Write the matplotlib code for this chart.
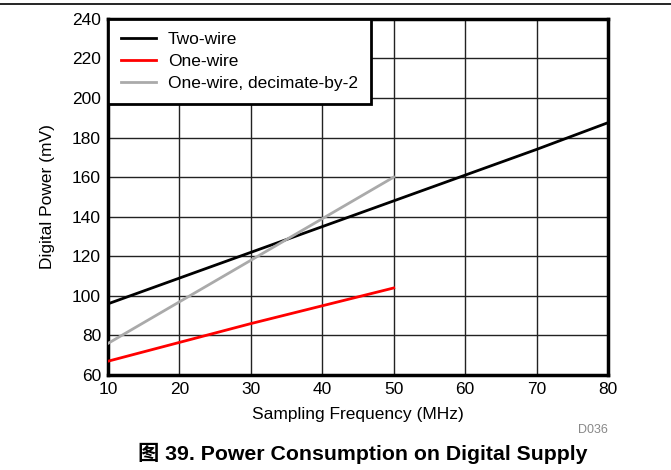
import numpy as np
import matplotlib.pyplot as plt
from matplotlib.lines import Line2D

# data
freq_two = [10, 20, 30, 40, 50, 60, 70, 80]
power_two = [96, 109, 122, 135, 148, 161, 174, 187.5]
freq_one = [10, 20, 30, 40, 50]
power_one = [67, 76.5, 86, 95, 104]
freq_dec = [10, 20, 30, 40, 50]
power_dec = [76, 97, 118, 139, 160]

plt.rcParams['font.family'] = ['Liberation Sans', 'Noto Sans CJK SC', 'DejaVu Sans']

fig = plt.figure(figsize=(6.71, 4.70), dpi=100)
ax = fig.add_axes([0.161, 0.202, 0.745, 0.758])

ax.plot(freq_two, power_two, color='black', lw=2, label='Two-wire', zorder=3)
ax.plot(freq_one, power_one, color='#ff0000', lw=2, label='One-wire', zorder=3)
ax.plot(freq_dec, power_dec, color='#aaaaaa', lw=2, label='One-wire, decimate-by-2', zorder=3)

ax.set_xlim(10, 80)
ax.set_ylim(60, 240)
ax.set_xticks(np.arange(10, 81, 10))
ax.set_yticks(np.arange(60, 241, 20))
ax.grid(True, color='#222222', lw=1)
ax.set_axisbelow(True)
ax.tick_params(length=0, labelsize=12.5, pad=5)
for s in ax.spines.values():
    s.set_linewidth(2.5)

ax.set_xlabel('Sampling Frequency (MHz)', fontsize=12.5, labelpad=7)
ax.set_ylabel('Digital Power (mV)', fontsize=12.5, labelpad=12)

leg = ax.legend(loc='upper left', fontsize=12.5, frameon=True, fancybox=False,
                framealpha=1, edgecolor='black', borderaxespad=0,
                handlelength=2.0, handletextpad=0.7, labelspacing=0.4,
                borderpad=0.75)
leg.get_frame().set_linewidth(2)

# top rule and caption
fig.add_artist(Line2D([0, 1], [0.992, 0.992], color='black', lw=1.2))
fig.text(0.906, 0.078, 'D036', fontsize=9, color='#888888', ha='right')
fig.text(0.541, 0.022, '图 39. Power Consumption on Digital Supply',
         fontsize=15.3, fontweight='bold', ha='center')

plt.savefig('out.png', dpi=100)
